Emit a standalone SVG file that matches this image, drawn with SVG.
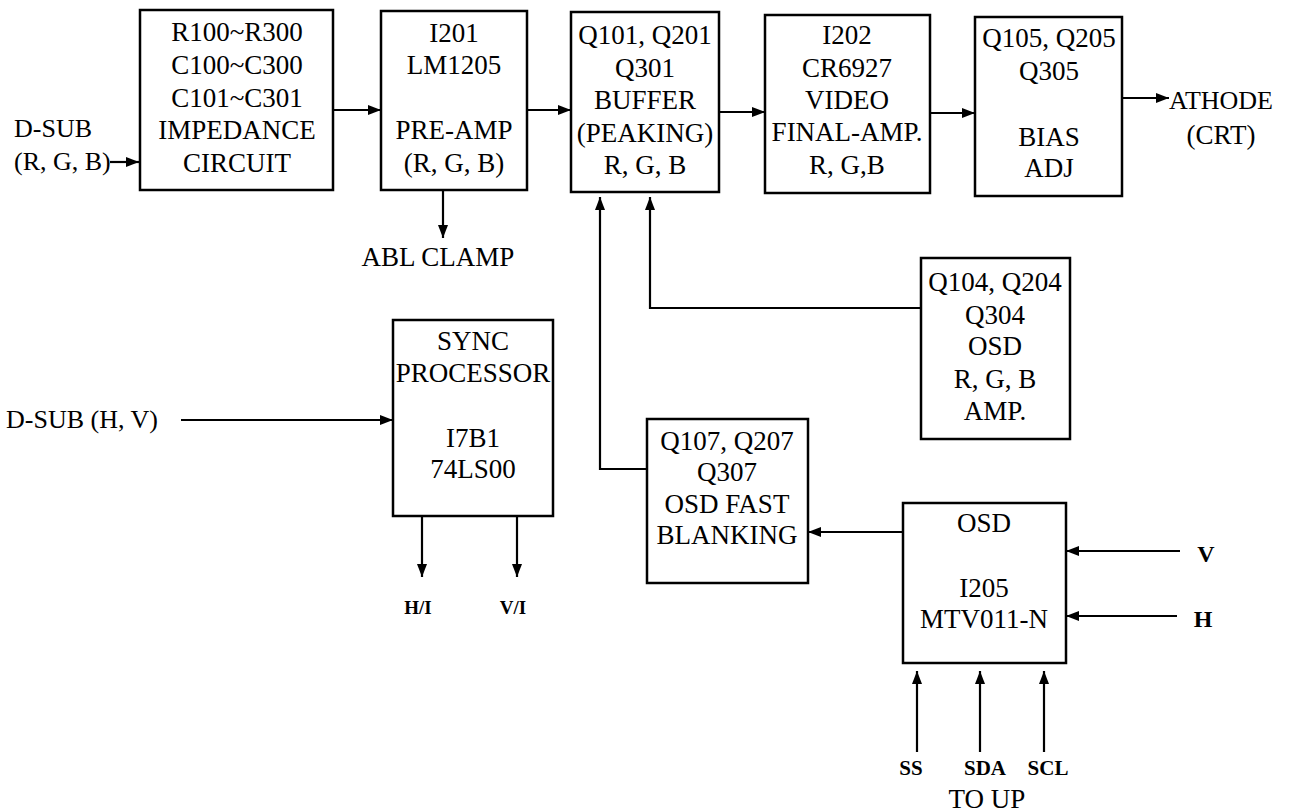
<svg xmlns="http://www.w3.org/2000/svg" width="1292" height="812" viewBox="0 0 1292 812">
<defs>
<marker id="ah" markerUnits="userSpaceOnUse" markerWidth="14" markerHeight="12" refX="13" refY="5" orient="auto">
<path d="M0,0 L13,5 L0,10 z" fill="#000"/>
</marker>
<style>
.box{fill:#fff;stroke:#000;stroke-width:2.5}
.t{font-family:"Liberation Serif","Times New Roman",serif;font-size:27px;fill:#000;text-anchor:middle}
.l{font-family:"Liberation Serif","Times New Roman",serif;font-size:26px;fill:#000}
.s{font-family:"Liberation Serif","Times New Roman",serif;font-size:19px;font-weight:bold;fill:#000;text-anchor:middle}
.m{font-family:"Liberation Serif","Times New Roman",serif;font-size:21px;font-weight:bold;fill:#000;text-anchor:middle}
.b{font-family:"Liberation Serif","Times New Roman",serif;font-size:24px;font-weight:bold;fill:#000;text-anchor:middle}
.c{fill:none;stroke:#000;stroke-width:2.2}
</style>
</defs>
<rect width="1292" height="812" fill="#fff"/>
<g id="connectors">
<line class="c" x1="110" y1="162" x2="139" y2="162" marker-end="url(#ah)"/>
<line class="c" x1="333" y1="110" x2="381" y2="110" marker-end="url(#ah)"/>
<line class="c" x1="527" y1="110" x2="571" y2="110" marker-end="url(#ah)"/>
<line class="c" x1="719" y1="112" x2="765" y2="112" marker-end="url(#ah)"/>
<line class="c" x1="930" y1="113" x2="975" y2="113" marker-end="url(#ah)"/>
<line class="c" x1="1122" y1="98" x2="1169" y2="98" marker-end="url(#ah)"/>
<line class="c" x1="443" y1="190" x2="443" y2="238" marker-end="url(#ah)"/>
<polyline class="c" points="647,469 600,469 600,197" marker-end="url(#ah)"/>
<polyline class="c" points="921,308 650,308 650,197" marker-end="url(#ah)"/>
<line class="c" x1="181" y1="420" x2="393" y2="420" marker-end="url(#ah)"/>
<line class="c" x1="422" y1="516" x2="422" y2="577" marker-end="url(#ah)"/>
<line class="c" x1="517" y1="516" x2="517" y2="577" marker-end="url(#ah)"/>
<line class="c" x1="903" y1="532" x2="808" y2="532" marker-end="url(#ah)"/>
<line class="c" x1="1180" y1="551" x2="1066" y2="551" marker-end="url(#ah)"/>
<line class="c" x1="1177" y1="616" x2="1066" y2="616" marker-end="url(#ah)"/>
<line class="c" x1="917" y1="752" x2="917" y2="671" marker-end="url(#ah)"/>
<line class="c" x1="980" y1="752" x2="980" y2="671" marker-end="url(#ah)"/>
<line class="c" x1="1044" y1="752" x2="1044" y2="671" marker-end="url(#ah)"/>
</g>
<g id="labels">
<text class="l" x="14" y="137">D-SUB</text>
<text class="l" x="14" y="170">(R, G, B)</text>
<text class="t" x="438" y="266">ABL CLAMP</text>
<text class="l" x="1169" y="109">ATHODE</text>
<text class="t" x="1221" y="144">(CRT)</text>
<text class="l" x="6" y="428">D-SUB (H, V)</text>
<text class="s" x="418" y="614">H/I</text>
<text class="s" x="513" y="614">V/I</text>
<text class="b" x="1206" y="562">V</text>
<text class="b" x="1203" y="627">H</text>
<text class="m" x="911" y="775">SS</text>
<text class="m" x="985" y="775">SDA</text>
<text class="m" x="1048" y="775">SCL</text>
<text class="t" x="987" y="808">TO UP</text>
</g>
<g id="impedance">
<rect class="box" x="140" y="10" width="193" height="180"/>
<text class="t" x="237" y="41">R100~R300</text>
<text class="t" x="237" y="74">C100~C300</text>
<text class="t" x="237" y="107">C101~C301</text>
<text class="t" x="237" y="139">IMPEDANCE</text>
<text class="t" x="237" y="172">CIRCUIT</text>
</g>
<g id="preamp">
<rect class="box" x="381" y="11" width="146" height="179"/>
<text class="t" x="454" y="42">I201</text>
<text class="t" x="454" y="74">LM1205</text>
<text class="t" x="454" y="139">PRE-AMP</text>
<text class="t" x="454" y="172">(R, G, B)</text>
</g>
<g id="buffer">
<rect class="box" x="571" y="12" width="148" height="180"/>
<text class="t" x="645" y="44">Q101, Q201</text>
<text class="t" x="645" y="77">Q301</text>
<text class="t" x="645" y="109">BUFFER</text>
<text class="t" x="645" y="142">(PEAKING)</text>
<text class="t" x="645" y="174">R, G, B</text>
</g>
<g id="finalamp">
<rect class="box" x="765" y="15" width="165" height="178"/>
<text class="t" x="847" y="44">I202</text>
<text class="t" x="847" y="77">CR6927</text>
<text class="t" x="847" y="109">VIDEO</text>
<text class="t" x="847" y="141">FINAL-AMP.</text>
<text class="t" x="847" y="174">R, G,B</text>
</g>
<g id="bias">
<rect class="box" x="975" y="17" width="147" height="179"/>
<text class="t" x="1049" y="47">Q105, Q205</text>
<text class="t" x="1049" y="80">Q305</text>
<text class="t" x="1049" y="146">BIAS</text>
<text class="t" x="1049" y="177">ADJ</text>
</g>
<g id="osdamp">
<rect class="box" x="921" y="258" width="149" height="181"/>
<text class="t" x="995" y="291">Q104, Q204</text>
<text class="t" x="995" y="324">Q304</text>
<text class="t" x="995" y="355">OSD</text>
<text class="t" x="995" y="388">R, G, B</text>
<text class="t" x="995" y="420">AMP.</text>
</g>
<g id="sync">
<rect class="box" x="393" y="320" width="160" height="196"/>
<text class="t" x="473" y="350">SYNC</text>
<text class="t" x="473" y="382">PROCESSOR</text>
<text class="t" x="473" y="447">I7B1</text>
<text class="t" x="473" y="478">74LS00</text>
</g>
<g id="blanking">
<rect class="box" x="647" y="419" width="161" height="164"/>
<text class="t" x="727" y="450">Q107, Q207</text>
<text class="t" x="727" y="481">Q307</text>
<text class="t" x="727" y="513">OSD FAST</text>
<text class="t" x="727" y="544">BLANKING</text>
</g>
<g id="osd">
<rect class="box" x="903" y="503" width="163" height="160"/>
<text class="t" x="984" y="532">OSD</text>
<text class="t" x="984" y="597">I205</text>
<text class="t" x="984" y="628">MTV011-N</text>
</g>
</svg>
